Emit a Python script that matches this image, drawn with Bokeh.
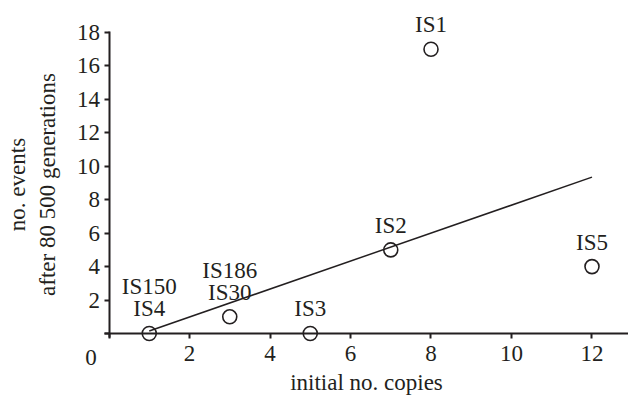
from bokeh.plotting import figure
from bokeh.models import FixedTicker, LabelSet, Label, ColumnDataSource, Range1d
from bokeh.core.properties import value
from bokeh.embed import file_html
from bokeh.resources import INLINE

# data
x_copies = [1, 3, 5, 7, 8, 12]
y_events = [0, 1, 0, 5, 17, 4]
labels_main = ["IS4", "IS30", "IS3", "IS2", "IS1", "IS5"]
labels_upper = ["IS150", "IS186", "", "", "", ""]
fit_x = [1, 12]
fit_y = [0.15, 9.35]
x_ticks = [0, 2, 4, 6, 8, 10, 12]
y_ticks = [0, 2, 4, 6, 8, 10, 12, 14, 16, 18]

INK = "#231f20"
FONT = "Liberation Serif"
FS = "23px"

p = figure(width=628, height=397, output_backend="svg", toolbar_location=None,
           x_range=Range1d(-2.696, 12.907), y_range=Range1d(-3.828, 19.916),
           min_border_left=0, min_border_right=0, min_border_top=0, min_border_bottom=0)
p.outline_line_color = None
p.xgrid.grid_line_color = None
p.ygrid.grid_line_color = None
p.background_fill_color = "white"

p.xaxis.fixed_location = 0
p.yaxis.fixed_location = 0
p.xaxis.ticker = FixedTicker(ticks=x_ticks)
p.yaxis.ticker = FixedTicker(ticks=y_ticks)
p.xaxis.major_label_overrides = {0: ""}
p.yaxis.major_label_overrides = {0: ""}
p.yaxis.bounds = (-0.25, 18.05)
p.xaxis.bounds = (-0.1, 12.95)
p.xaxis.axis_label = "initial no. copies"
p.yaxis.axis_label = "no. events\nafter 80 500 generations"
for ax in (p.xaxis, p.yaxis):
    ax.axis_line_color = INK
    ax.axis_line_width = 2
    ax.major_tick_line_color = INK
    ax.major_tick_line_width = 2
    ax.major_tick_in = 0
    ax.major_tick_out = 5
    ax.minor_tick_line_color = None
    ax.major_label_text_font = FONT
    ax.major_label_text_font_size = FS
    ax.major_label_text_color = INK
    ax.axis_label_text_font = FONT
    ax.axis_label_text_font_size = FS
    ax.axis_label_text_font_style = "normal"
    ax.axis_label_text_color = INK
p.xaxis.major_label_standoff = 8
p.yaxis.major_label_standoff = 4
p.xaxis.axis_label_standoff = 5
p.yaxis.axis_label_standoff = 15

p.line(fit_x, fit_y, line_width=1.5, line_color=INK)
p.scatter(x_copies, y_events, marker="circle", size=14, fill_color=None,
          line_color=INK, line_width=1.6)

src_main = ColumnDataSource(dict(x=x_copies, y=y_events, t=labels_main))
up_idx = [i for i, t in enumerate(labels_upper) if t]
src_up = ColumnDataSource(dict(x=[x_copies[i] for i in up_idx],
                               y=[y_events[i] for i in up_idx],
                               t=[labels_upper[i] for i in up_idx]))
for src, off in ((src_main, 17), (src_up, 39)):
    p.add_layout(LabelSet(x="x", y="y", text="t", source=src, y_offset=off,
                          text_align="center", text_baseline="alphabetic",
                          text_font=value(FONT), text_font_size=value(FS),
                          text_color=INK))

p.add_layout(Label(x=0, y=0, x_offset=-18, y_offset=-24, text="0",
                   text_align="center", text_baseline="middle",
                   text_font=FONT, text_font_size=FS, text_color=INK))

open("out.html", "w").write(file_html(p, INLINE))
